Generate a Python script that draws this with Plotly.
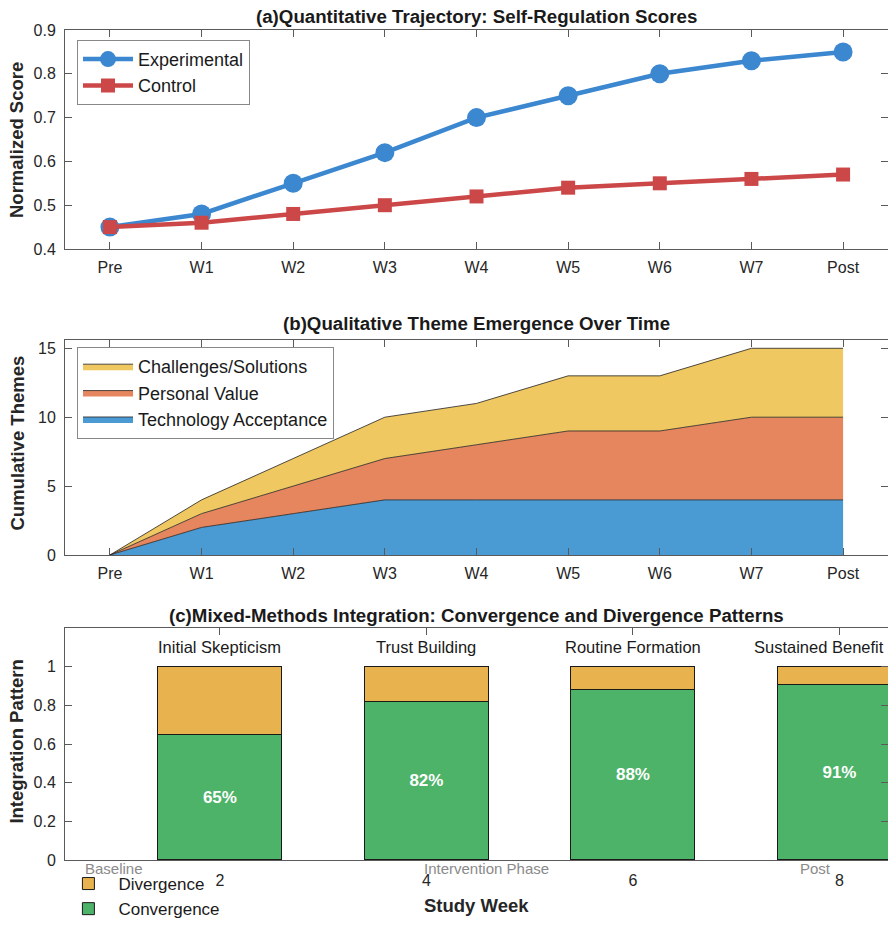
import plotly.graph_objects as go

# ---------------- data ----------------
weeks = ["Pre", "W1", "W2", "W3", "W4", "W5", "W6", "W7", "Post"]
exp_scores = [0.45, 0.48, 0.55, 0.62, 0.70, 0.75, 0.80, 0.83, 0.85]
ctrl_scores = [0.45, 0.46, 0.48, 0.50, 0.52, 0.54, 0.55, 0.56, 0.57]

tech_acceptance = [0, 2, 3, 4, 4, 4, 4, 4, 4]
personal_value = [0, 1, 2, 3, 4, 5, 5, 6, 6]
challenges = [0, 1, 2, 3, 3, 4, 4, 5, 5]

study_weeks = [2, 4, 6, 8]
convergence = [0.65, 0.82, 0.88, 0.91]
divergence = [0.35, 0.18, 0.12, 0.09]
phase_names = ["Initial Skepticism", "Trust Building", "Routine Formation", "Sustained Benefit"]
period_labels = ["Baseline", "Intervention Phase", "Post"]

# text placement (layout only)
phase_shift = [0, 0, 0, -20]
period_pos = [0.97, 4.58, 7.77]

# ---------------- styling ----------------
FONT = "Liberation Sans, Arial, sans-serif"
AX = "#5a5a5a"
BLUE = "#3B87D0"
RED = "#CC4747"
C_TECH = "#4A9BD4"
C_PV = "#E5865E"
C_CH = "#F0C862"
C_CONV = "#4DB368"
C_DIV = "#E8B34E"

fig = go.Figure()

# (a) lines
fig.add_trace(go.Scatter(x=weeks, y=exp_scores, name="Experimental", mode="lines+markers",
                         line=dict(color=BLUE, width=4.5),
                         marker=dict(symbol="circle", size=19, color=BLUE),
                         xaxis="x", yaxis="y", legend="legend"))
fig.add_trace(go.Scatter(x=weeks, y=ctrl_scores, name="Control", mode="lines+markers",
                         line=dict(color=RED, width=4.5),
                         marker=dict(symbol="square", size=14, color=RED),
                         xaxis="x", yaxis="y", legend="legend"))

# (b) stacked areas
for name, vals, col in [("Technology Acceptance", tech_acceptance, C_TECH),
                        ("Personal Value", personal_value, C_PV),
                        ("Challenges/Solutions", challenges, C_CH)]:
    fig.add_trace(go.Scatter(x=weeks, y=vals, name=name, mode="lines", stackgroup="themes",
                             line=dict(color="#222222", width=0.8), fillcolor=col,
                             xaxis="x2", yaxis="y2", legend="legend2"))

# (c) stacked bars
fig.add_trace(go.Bar(x=study_weeks, y=convergence, name="Convergence", width=1.2,
                     marker=dict(color=C_CONV, line=dict(color="#1a1a1a", width=1)),
                     text=[f"{v*100:.0f}%" for v in convergence], textposition="inside",
                     insidetextanchor="middle",
                     textfont=dict(color="white", size=17, family=FONT, weight="bold"),
                     xaxis="x3", yaxis="y3", legend="legend3"))
fig.add_trace(go.Bar(x=study_weeks, y=divergence, name="Divergence", width=1.2,
                     marker=dict(color=C_DIV, line=dict(color="#1a1a1a", width=1)),
                     xaxis="x3", yaxis="y3", legend="legend3"))

axis_common = dict(showline=True, linecolor=AX, linewidth=1, mirror="ticks", ticks="inside",
                   ticklen=7, tickcolor=AX, showgrid=False, zeroline=False, automargin=False,
                   tickfont=dict(family=FONT, size=16, color="#262626"))

legend_font = dict(family=FONT, size=18, color="#1a1a1a")

fig.update_layout(
    width=888, height=927,
    margin=dict(l=65, r=0, t=0, b=0),
    plot_bgcolor="white", paper_bgcolor="white",
    font=dict(family=FONT, color="#262626"),
    barmode="stack",
    xaxis=dict(domain=[0, 1], anchor="y", range=[-0.49, 8.49], ticklabelstandoff=4, **axis_common),
    yaxis=dict(domain=[0.7314, 0.9676], anchor="x", range=[0.4, 0.9], dtick=0.1,
               ticklabelstandoff=5, **axis_common),
    xaxis2=dict(domain=[0, 1], anchor="y2", range=[-0.49, 8.49], ticklabelstandoff=4, **axis_common),
    yaxis2=dict(domain=[0.4013, 0.6332], anchor="x2", range=[0, 15.6], tickvals=[0, 5, 10, 15],
                ticklabelstandoff=5, **axis_common),
    xaxis3=dict(domain=[0, 1], anchor="y3", range=[0.5, 8.47], tickvals=study_weeks,
                ticklabelstandoff=6, layer="below traces", **axis_common),
    yaxis3=dict(domain=[0.0723, 0.3225], anchor="x3", range=[0, 1.2],
                tickvals=[0, 0.2, 0.4, 0.6, 0.8, 1], ticktext=["0", "0.2", "0.4", "0.6", "0.8", "1"],
                ticklabelstandoff=5, **axis_common),
    legend=dict(x=0.0146, y=0.957, xanchor="left", yanchor="top", bgcolor="white",
                bordercolor="#888888", borderwidth=1, traceorder="normal", itemwidth=50,
                font=legend_font, tracegroupgap=0),
    legend2=dict(x=0.0146, y=0.6257, xanchor="left", yanchor="top", bgcolor="white",
                 bordercolor="#888888", borderwidth=1, traceorder="reversed", itemwidth=50,
                 font=legend_font, tracegroupgap=0),
    legend3=dict(x=-0.008, y=0.0, xanchor="left", yanchor="bottom",
                 bgcolor="rgba(0,0,0,0)", borderwidth=0, traceorder="reversed", itemwidth=50,
                 font=dict(family=FONT, size=17, color="#1a1a1a"), tracegroupgap=0),
    showlegend=True,
)

ann = []
titles = [("(a)Quantitative Trajectory: Self-Regulation Scores", 0.9817),
          ("(b)Qualitative Theme Emergence Over Time", 0.6505),
          ("(c)Mixed-Methods Integration: Convergence and Divergence Patterns", 0.3355)]
for t, y in titles:
    ann.append(dict(text=f"<b>{t}</b>", x=0.5, y=y, xref="paper", yref="paper", showarrow=False,
                    xanchor="center", yanchor="middle",
                    font=dict(family=FONT, size=18.7, color="#1a1a1a")))
ylabels = [("Normalized Score", 0.849), ("Cumulative Themes", 0.5216), ("Integration Pattern", 0.2)]
for t, y in ylabels:
    ann.append(dict(text=f"<b>{t}</b>", x=-0.0583, y=y, xref="paper", yref="paper", showarrow=False,
                    textangle=-90, xanchor="center", yanchor="middle",
                    font=dict(family=FONT, size=18.5, color="#262626")))
ann.append(dict(text="<b>Study Week</b>", x=0.5, y=0.0237, xref="paper", yref="paper", showarrow=False,
                xanchor="center", yanchor="middle", font=dict(family=FONT, size=18.5, color="#262626")))
for name, xv, sh in zip(phase_names, study_weeks, phase_shift):
    ann.append(dict(text=name, x=xv, y=1.1, xref="x3", yref="y3", showarrow=False, xshift=sh,
                    xanchor="center", yanchor="middle", font=dict(family=FONT, size=16.5, color="#1a1a1a")))
for name, xv in zip(period_labels, period_pos):
    ann.append(dict(text=name, x=xv, y=0, xref="x3", yref="y3", showarrow=False, yshift=-9,
                    xanchor="center", yanchor="middle", font=dict(family=FONT, size=15, color="#8a8a8a")))
fig.update_layout(annotations=ann)

fig.write_html("out.html", config={"displayModeBar": False},
               post_script="document.body.style.margin='0';document.body.style.overflow='hidden';")
